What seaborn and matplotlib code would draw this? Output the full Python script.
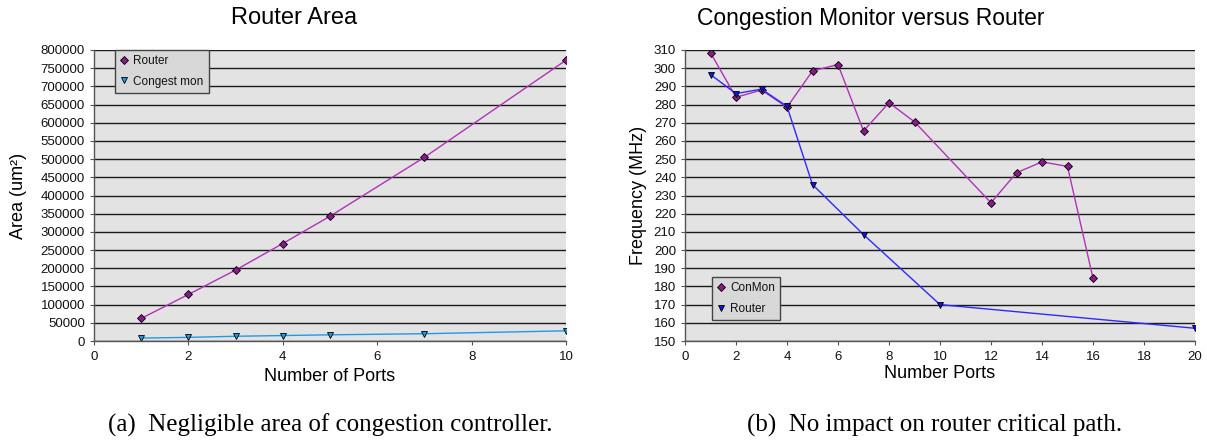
import pandas as pd
import matplotlib.pyplot as plt
import seaborn as sns

# Router area data (left panel)
area_ports = [1, 2, 3, 4, 5, 7, 10]
router_area = [62000, 128000, 195000, 268000, 343000, 505000, 772000]
congest_area = [8000, 10000, 13000, 15000, 17000, 20000, 28000]

# Frequency data (right panel)
conmon_ports = [1, 2, 3, 4, 5, 6, 7, 8, 9, 12, 13, 14, 15, 16]
conmon_freq = [308.5, 284, 288, 278.5, 298.5, 302, 265.5, 281, 270.5, 226, 242.5, 248.5, 246, 184.5]
router_ports = [1, 2, 3, 4, 5, 7, 10, 20]
router_freq = [296.5, 286, 288.5, 279, 236, 208.5, 170, 157]

sns.set_style('white')
plt.rcParams['font.family'] = ['Liberation Sans', 'DejaVu Sans']
plt.rcParams['text.color'] = 'black'
plt.rcParams['axes.labelcolor'] = 'black'
plt.rcParams['xtick.color'] = 'black'
plt.rcParams['ytick.color'] = 'black'

W, H = 1207, 443
fig = plt.figure(figsize=(W / 100, H / 100), dpi=100)
ax1 = fig.add_axes([94 / W, 102 / H, 472 / W, 291 / H])
ax2 = fig.add_axes([685 / W, 102 / H, 510 / W, 291 / H])


def style_axes(ax):
    ax.set_facecolor('#e3e3e3')
    ax.grid(axis='y', color='#1a1a1a', linewidth=1.0)
    ax.grid(axis='x', visible=False)
    ax.set_axisbelow(True)
    for side in ['top', 'right']:
        ax.spines[side].set_visible(False)
    for side in ['left', 'bottom']:
        ax.spines[side].set_color('#555555')
        ax.spines[side].set_linewidth(1.0)
    ax.tick_params(axis='both', labelsize=9.5, length=3, direction='out',
                   bottom=True, left=True, color='#555555', labelcolor='#111111')
    ax.tick_params(axis='x', pad=4.5)
    ax.tick_params(axis='y', pad=3.5)


def boxed_legend(ax, **kw):
    leg = ax.legend(fontsize=8.5, frameon=True, fancybox=False, edgecolor='#444444',
                    facecolor='#d8d8d8', framealpha=1, handlelength=0.7,
                    handletextpad=0.4, borderpad=0.45, labelspacing=0.7,
                    borderaxespad=0, labelcolor='#111111', **kw)
    leg.get_frame().set_linewidth(1.0)
    for line in leg.get_lines():
        line.set_linestyle('')
    return leg


# Left: Router Area
sns.lineplot(x=area_ports, y=router_area, ax=ax1, color='#b033b8', linewidth=1,
             marker='D', markersize=4, markerfacecolor='#8a1a8a',
             markeredgecolor='black', markeredgewidth=0.6, label='Router')
sns.lineplot(x=area_ports, y=congest_area, ax=ax1, color='#1e9be8', linewidth=1,
             marker='v', markersize=5, markerfacecolor='#1e9be8',
             markeredgecolor='black', markeredgewidth=0.6, label='Congest mon')
ax1.set_xlim(0, 10)
ax1.set_ylim(0, 800000)
ax1.set_xticks(range(0, 11, 2))
ax1.set_yticks(range(0, 800001, 50000))
style_axes(ax1)
ax1.set_xlabel('Number of Ports', fontsize=13, labelpad=3)
ax1.set_ylabel('Area (um²)', fontsize=13, labelpad=10)
boxed_legend(ax1, loc='upper left', bbox_to_anchor=(21 / 472, 1.0))

# Right: Congestion Monitor versus Router
sns.lineplot(x=conmon_ports, y=conmon_freq, ax=ax2, color='#b033b8', linewidth=1,
             marker='D', markersize=4, markerfacecolor='#8a1a8a',
             markeredgecolor='black', markeredgewidth=0.6, label='ConMon')
sns.lineplot(x=router_ports, y=router_freq, ax=ax2, color='#2b2bff', linewidth=1,
             marker='v', markersize=5, markerfacecolor='#1010ee',
             markeredgecolor='black', markeredgewidth=0.6, label='Router')
ax2.set_xlim(0, 20)
ax2.set_ylim(150, 310)
ax2.set_xticks(range(0, 21, 2))
ax2.set_yticks(range(150, 311, 10))
style_axes(ax2)
ax2.set_xlabel('Number Ports', fontsize=13, labelpad=1)
ax2.set_ylabel('Frequency (MHz)', fontsize=13, labelpad=5)
boxed_legend(ax2, loc='lower left', bbox_to_anchor=(27 / 510, 21 / 291))

# Titles centred over each whole chart block
fig.text(294 / W, 1 - 18 / H, 'Router Area', ha='center', va='center', fontsize=17)
fig.text(871 / W, 1 - 18 / H, 'Congestion Monitor versus Router', ha='center',
         va='center', fontsize=16.5)

# Captions
fig.text(330 / W, 1 - 425 / H, '(a)  Negligible area of congestion controller.',
         ha='center', va='center', fontsize=18, family='Liberation Serif')
fig.text(935 / W, 1 - 425 / H, '(b)  No impact on router critical path.',
         ha='center', va='center', fontsize=18, family='Liberation Serif')

fig.savefig('out.png', dpi=100)
